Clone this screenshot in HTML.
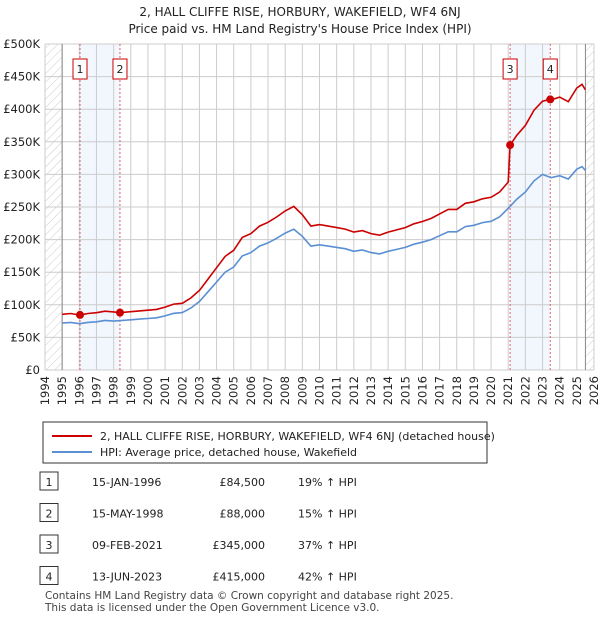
<!DOCTYPE html>
<html><head><meta charset="utf-8"><style>
body{margin:0;background:#fff;font-family:"DejaVu Sans","Liberation Sans",sans-serif;}
svg text{font-family:"DejaVu Sans","Liberation Sans",sans-serif;}
</style></head><body>
<svg id="c" width="600" height="620" xmlns="http://www.w3.org/2000/svg">
<defs><pattern id="hatch" width="6" height="6" patternUnits="userSpaceOnUse" patternTransform="rotate(45)"><line x1="0" y1="0" x2="0" y2="6" stroke="#ccc" stroke-width="1"/></pattern></defs>
<text x="300" y="16" text-anchor="middle" font-size="12" fill="#222">2, HALL CLIFFE RISE, HORBURY, WAKEFIELD, WF4 6NJ</text>
<text x="300" y="33" text-anchor="middle" font-size="12" fill="#222">Price paid vs. HM Land Registry's House Price Index (HPI)</text>
<g id="plot"></g>
<rect x="43" y="422" width="444" height="41" fill="#fff" stroke="#333"/>
<line x1="52" y1="436" x2="92" y2="436" stroke="#cc0000" stroke-width="2"/>
<text x="100" y="440" font-size="11" fill="#222">2, HALL CLIFFE RISE, HORBURY, WAKEFIELD, WF4 6NJ (detached house)</text>
<line x1="52" y1="452" x2="92" y2="452" stroke="#5b8fd4" stroke-width="2"/>
<text x="100" y="456" font-size="11" fill="#222">HPI: Average price, detached house, Wakefield</text>
<g id="table"></g>
<text x="45" y="599" font-size="10.5" fill="#444">Contains HM Land Registry data © Crown copyright and database right 2025.</text>
<text x="45" y="611" font-size="10.5" fill="#444">This data is licensed under the Open Government Licence v3.0.</text>
</svg>
<script>
const hpiYears=[1995,1995.5,1996,1996.5,1997,1997.5,1998,1998.5,1999,1999.5,2000,2000.5,2001,2001.5,2002,2002.5,2003,2003.5,2004,2004.5,2005,2005.5,2006,2006.5,2007,2007.5,2008,2008.5,2009,2009.5,2010,2010.5,2011,2011.5,2012,2012.5,2013,2013.5,2014,2014.5,2015,2015.5,2016,2016.5,2017,2017.5,2018,2018.5,2019,2019.5,2020,2020.5,2021,2021.5,2022,2022.5,2023,2023.5,2024,2024.5,2025,2025.3,2025.5];
const hpiValues=[72,73,71,73,74,76,75,76,77,78,79,80,83,87,88,95,105,120,135,150,158,175,180,190,195,202,210,216,205,190,192,190,188,186,182,184,180,178,182,185,188,193,196,200,206,212,212,220,222,226,228,235,248,262,273,290,300,295,298,293,308,312,306];
const saleYears=[1996.04,1998.37,2021.11,2023.45];
const salePrices=[84500,88000,345000,415000];
const saleDates=["15-JAN-1996","15-MAY-1998","09-FEB-2021","13-JUN-2023"];
const salePriceLabels=["£84,500","£88,000","£345,000","£415,000"];
const saleHpiLabels=["19% ↑ HPI","15% ↑ HPI","37% ↑ HPI","42% ↑ HPI"];
const yTicks=[0,50,100,150,200,250,300,350,400,450,500];
const yTickLabels=["£0","£50K","£100K","£150K","£200K","£250K","£300K","£350K","£400K","£450K","£500K"];
const xTicks=[1994,1995,1996,1997,1998,1999,2000,2001,2002,2003,2004,2005,2006,2007,2008,2009,2010,2011,2012,2013,2014,2015,2016,2017,2018,2019,2020,2021,2022,2023,2024,2025,2026];

const X0=45,X1=594,Y0=370,Y1=44;
const xs=y=>X0+(y-1994)/(2026-1994)*(X1-X0);
const ys=v=>Y0-v/500*(Y0-Y1);
const NS="http://www.w3.org/2000/svg";
const plot=document.getElementById('plot');
function mk(tag,attrs,parent){const e=document.createElementNS(NS,tag);for(const k in attrs)e.setAttribute(k,attrs[k]);(parent||plot).appendChild(e);return e;}
function hpiAt(t){for(let i=0;i<hpiYears.length-1;i++){if(t<=hpiYears[i+1]){const f=(t-hpiYears[i])/(hpiYears[i+1]-hpiYears[i]);return hpiValues[i]+f*(hpiValues[i+1]-hpiValues[i]);}}return hpiValues[hpiValues.length-1];}

let h1=mk('rect',{x:X0,y:Y1,width:xs(1995)-X0,height:Y0-Y1,fill:'url(#hatch)'});


let h2=mk('rect',{x:xs(2025.5),y:Y1,width:X1-xs(2025.5),height:Y0-Y1,fill:'url(#hatch)'});


[[0,1],[2,3]].forEach((p,i)=>{const r=mk('rect',{x:xs(saleYears[p[0]]),y:Y1,width:xs(saleYears[p[1]])-xs(saleYears[p[0]]),height:Y0-Y1,fill:'#f2f6fd'});

});
xTicks.forEach(t=>{const l=mk('line',{x1:xs(t),x2:xs(t),y1:Y1,y2:Y0,stroke:'#ccc','stroke-width':1});


const tx=mk('text',{x:xs(t),y:Y0+6,'font-size':11.5,fill:'#222','text-anchor':'end',transform:`rotate(-90 ${xs(t)} ${Y0+6})`,dy:'0.35em'});tx.textContent=t;

});
yTicks.forEach((t,i)=>{const l=mk('line',{x1:X0,x2:X1,y1:ys(t),y2:ys(t),stroke:'#ccc','stroke-width':1});


const tx=mk('text',{x:X0-5,y:ys(t)+4,'font-size':11.5,fill:'#222','text-anchor':'end'});tx.textContent=yTickLabels[i];

});
[1995,2025.5].forEach(t=>{const l=mk('line',{x1:xs(t),x2:xs(t),y1:Y1,y2:Y0,stroke:'#888','stroke-width':1});

});
saleYears.forEach((s,i)=>{const l=mk('line',{x1:xs(s),x2:xs(s),y1:Y1,y2:Y0,stroke:'#e06060','stroke-width':1,'stroke-dasharray':'2,2'});


const b=mk('rect',{x:xs(s)-7,y:59,width:14,height:20,fill:'#fff',stroke:'#cc0000'});


const t=mk('text',{x:xs(s),y:73,'font-size':11,'text-anchor':'middle',fill:'#222'});t.textContent=i+1;

});
let d='';hpiYears.forEach((y,i)=>{d+=(i?'L':'M')+xs(y).toFixed(1)+','+ys(hpiValues[i]).toFixed(1);});
const hl=mk('path',{d,fill:'none',stroke:'#5b8fd4','stroke-width':1.6});


const pts=[];
const times=hpiYears.concat(saleYears).sort((a,b)=>a-b);
times.forEach(t=>{let k=0;for(let i=0;i<saleYears.length;i++)if(t>=saleYears[i])k=i;const v=salePrices[k]/1000*hpiAt(t)/hpiAt(saleYears[k]);pts.push([t,v]);});
d='';pts.forEach((p,i)=>{d+=(i?'L':'M')+xs(p[0]).toFixed(1)+','+ys(p[1]).toFixed(1);});
const pl=mk('path',{d,fill:'none',stroke:'#cc0000','stroke-width':1.6});


saleYears.forEach((s,i)=>{const c=mk('circle',{cx:xs(s),cy:ys(salePrices[i]/1000),r:4,fill:'#cc0000'});

});
const tb=document.getElementById('table');
saleDates.forEach((dt,i)=>{const y=483+i*31.5;
const b=mk('rect',{x:40,y:y-11,width:18,height:18,fill:'#fff',stroke:'#333'},tb);


const n=mk('text',{x:49,y:y+3,'font-size':11,'text-anchor':'middle',fill:'#222'},tb);n.textContent=i+1;


const a=mk('text',{x:92,y:y+3,'font-size':11,fill:'#222'},tb);a.textContent=dt;


const p=mk('text',{x:265,y:y+3,'font-size':11,fill:'#222','text-anchor':'end'},tb);p.textContent=salePriceLabels[i];


const h=mk('text',{x:298,y:y+3,'font-size':11,fill:'#222'},tb);h.textContent=saleHpiLabels[i];

});
</script>
</body></html>
